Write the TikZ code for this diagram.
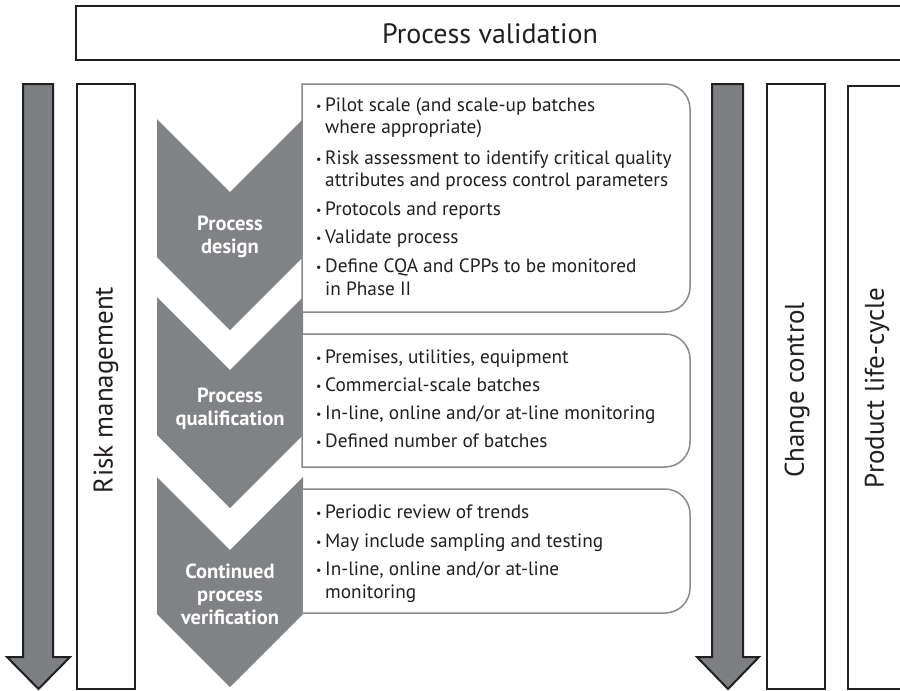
\documentclass[tikz,border=0pt]{standalone}
\usepackage{fontspec}
\setmainfont{PT Sans}
\definecolor{ink}{HTML}{231F20}
\definecolor{arrowgray}{HTML}{7E7F83}
\definecolor{chevgray}{HTML}{808285}
\definecolor{boxgray}{HTML}{8A8A8C}
\newcommand{\bul}{\makebox[9pt][l]{\raisebox{0.5pt}{\fontsize{12}{12}\selectfont\textbullet}}}
\newcommand{\nob}{\hspace*{9pt}}
\begin{document}
\begin{tikzpicture}[x=1pt,y=-1pt,
  frame/.style={draw=ink, line width=2pt, fill=white},
  bigarrow/.style={draw=ink, line width=2pt, fill=arrowgray, line join=miter},
  chev/.style={fill=chevgray},
  infobox/.style={draw=boxgray, line width=1.5pt, fill=white},
  vlabel/.style={rotate=90, font=\fontsize{27}{30}\selectfont, text=ink, inner sep=0},
  toplabel/.style={font=\fontsize{28}{32}\selectfont, text=ink, inner sep=0},
  chevlabel/.style={text=white, font=\bfseries\fontsize{20.5}{23}\selectfont, align=center, inner sep=0},
  txt/.style={anchor=base west, font=\fontsize{19.3}{22}\selectfont, text=ink, inner sep=0}]
\useasboundingbox (0,0) rectangle (900,691);
\clip (0,0) rectangle (900,691);
\fill[white] (0,0) rectangle (900,691);

% top box
\draw[frame] (76,6) rectangle (920,60);
\node[toplabel] (pv) at (490,34) {Process validation};

% left arrow and risk box
\draw[bigarrow] (23,84) -- (53,84) -- (53,657) -- (70,657) -- (38.5,689) -- (7,657) -- (23,657) -- cycle;
\draw[frame] (77,84) rectangle (135,689);
\node[vlabel] (rm) at (106,390) {Risk management};

% right arrow and boxes
\draw[bigarrow] (712,84) -- (743,84) -- (743,657) -- (759,657) -- (728,689) -- (697,657) -- (712,657) -- cycle;
\draw[frame] (767,84) rectangle (825,689);
\node[vlabel] (cc) at (797,390) {Change control};
\draw[frame] (848,86) rectangle (920,689);
\node[vlabel] (pl) at (877,388) {Product life-cycle};

% chevrons
\fill[chev] (157,119) -- (230,192) -- (303,119) -- (303,257) -- (230,330) -- (157,257) -- cycle;
\fill[chev] (157,297) -- (230,370) -- (303,297) -- (303,435) -- (230,508) -- (157,435) -- cycle;
\fill[chev] (157,477) -- (230,550) -- (303,477) -- (303,614) -- (230,687) -- (157,614) -- cycle;
\node[chevlabel] (c1) at (230,237) {Process\\design};
\node[chevlabel] (c2) at (230,409) {Process\\qualification};
\node[chevlabel] (c3) at (230,594) {Continued\\process\\verification};

% info boxes
\draw[infobox] (302,84) -- (665,84) arc[start angle=90,end angle=0,radius=25pt] -- (690,287) arc[start angle=0,end angle=-90,radius=25pt] -- (302,312) -- cycle;
\draw[infobox] (302,334) -- (665,334) arc[start angle=90,end angle=0,radius=25pt] -- (690,442) arc[start angle=0,end angle=-90,radius=25pt] -- (302,467) -- cycle;
\draw[infobox] (302,489) -- (665,489) arc[start angle=90,end angle=0,radius=25pt] -- (690,588) arc[start angle=0,end angle=-90,radius=25pt] -- (302,613) -- cycle;

% box 1 text
\node[txt] (a1) at (316,111) {\bul Pilot scale (and scale-up batches};
\node[txt] (a2) at (316,133) {\nob where appropriate)};
\node[txt] (a3) at (316,164) {\bul Risk assessment to identify critical quality};
\node[txt] (a4) at (316,186) {\nob attributes and process control parameters};
\node[txt] (a5) at (316,215) {\bul Protocols and reports};
\node[txt] (a6) at (316,243) {\bul Validate process};
\node[txt] (a7) at (316,272) {\bul Define CQA and CPPs to be monitored};
\node[txt] (a8) at (316,295) {\nob in Phase II};

% box 2 text
\node[txt] (b1) at (316,363) {\bul Premises, utilities, equipment};
\node[txt] (b2) at (316,391) {\bul Commercial-scale batches};
\node[txt] (b3) at (316,419) {\bul In-line, online and/or at-line monitoring};
\node[txt] (b4) at (316,447) {\bul Defined number of batches};

% box 3 text
\node[txt] (d1) at (316,518) {\bul Periodic review of trends};
\node[txt] (d2) at (316,547) {\bul May include sampling and testing};
\node[txt] (d3) at (316,575) {\bul In-line, online and/or at-line};
\node[txt] (d4) at (316,598) {\nob monitoring};
\end{tikzpicture}
\end{document}
